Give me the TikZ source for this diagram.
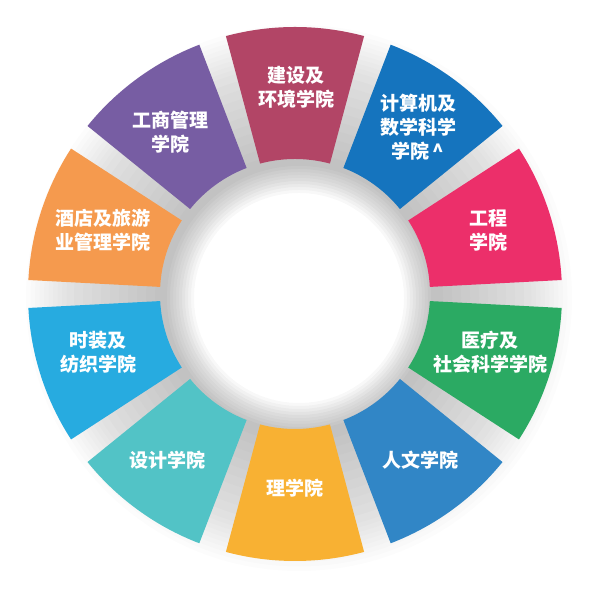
\documentclass[tikz,border=0pt]{standalone}
\usepackage{fontspec}
\newfontfamily\cjk{Noto Sans CJK SC}
\usepackage{tikz}
\usetikzlibrary{calc}

\definecolor{jianshe}{RGB}{178,69,102}
\definecolor{jisuanji}{RGB}{21,116,190}
\definecolor{gongcheng}{RGB}{236,47,106}
\definecolor{yiliao}{RGB}{43,170,99}
\definecolor{renwen}{RGB}{49,134,198}
\definecolor{lixue}{RGB}{248,177,51}
\definecolor{sheji}{RGB}{82,195,198}
\definecolor{shizhuang}{RGB}{39,171,224}
\definecolor{jiudian}{RGB}{245,154,78}
\definecolor{gongshang}{RGB}{119,93,163}

\tikzset{
  lbl/.style={align=center,text=white,inner sep=0pt,
    font=\cjk\bfseries\fontsize{9.5}{12}\selectfont},
  shadowring/.style={fill=black,opacity=#1,even odd rule}
}

\begin{document}
\begin{tikzpicture}[x=0.5pt,y=0.5pt]
\useasboundingbox (0,0) rectangle (591,592);
\coordinate (O) at (295,298);
\coordinate (S) at (299,294);
% soft shadow under the ring
\foreach \k in {1,...,10}
  \path[shadowring=0.013] (S) circle[radius=135-3*\k] circle[radius=228+4.5*\k];
\foreach \k in {1,...,10}
  \path[shadowring=0.016] (S) circle[radius=135-3*\k] circle[radius=135+9*\k];
% ring segments
\begin{scope}[shift={(O)}]
\fill[jianshe] (75:135) -- (75:267) arc[start angle=75,end angle=105,radius=267] -- (105:135) arc[start angle=105,end angle=75,radius=135] -- cycle;
\fill[jisuanji] (39:135) -- (39:267) arc[start angle=39,end angle=69,radius=267] -- (69:135) arc[start angle=69,end angle=39,radius=135] -- cycle;
\fill[gongcheng] (3:135) -- (3:267) arc[start angle=3,end angle=33,radius=267] -- (33:135) arc[start angle=33,end angle=3,radius=135] -- cycle;
\fill[yiliao] (-33:135) -- (-33:267) arc[start angle=-33,end angle=-3,radius=267] -- (-3:135) arc[start angle=-3,end angle=-33,radius=135] -- cycle;
\fill[renwen] (-69:135) -- (-69:267) arc[start angle=-69,end angle=-39,radius=267] -- (-39:135) arc[start angle=-39,end angle=-69,radius=135] -- cycle;
\fill[lixue] (-105:135) -- (-105:267) arc[start angle=-105,end angle=-75,radius=267] -- (-75:135) arc[start angle=-75,end angle=-105,radius=135] -- cycle;
\fill[sheji] (-141:135) -- (-141:267) arc[start angle=-141,end angle=-111,radius=267] -- (-111:135) arc[start angle=-111,end angle=-141,radius=135] -- cycle;
\fill[shizhuang] (-177:135) -- (-177:267) arc[start angle=-177,end angle=-147,radius=267] -- (-147:135) arc[start angle=-147,end angle=-177,radius=135] -- cycle;
\fill[jiudian] (147:135) -- (147:267) arc[start angle=147,end angle=177,radius=267] -- (177:135) arc[start angle=177,end angle=147,radius=135] -- cycle;
\fill[gongshang] (111:135) -- (111:267) arc[start angle=111,end angle=141,radius=267] -- (141:135) arc[start angle=141,end angle=111,radius=135] -- cycle;
\end{scope}
% labels
\node[lbl] (t-jianshe) at (296,505) {建设及\\环境学院};
\node[lbl] (t-jisuanji) at (418,465) {计算机及\\数学科学\\学院\,\textasciicircum};
\node[lbl] (t-gongcheng) at (488,362) {工程\\学院};
\node[lbl] (t-yiliao) at (490,240) {医疗及\\社会科学学院};
\node[lbl] (t-renwen) at (420,132) {人文学院};
\node[lbl] (t-lixue) at (295,104) {理学院};
\node[lbl] (t-sheji) at (167,132) {设计学院};
\node[lbl] (t-shizhuang) at (98,240) {时装及\\纺织学院};
\node[lbl] (t-jiudian) at (103,362) {酒店及旅游\\业管理学院};
\node[lbl] (t-gongshang) at (170,460) {工商管理\\学院};
\end{tikzpicture}
\end{document}
